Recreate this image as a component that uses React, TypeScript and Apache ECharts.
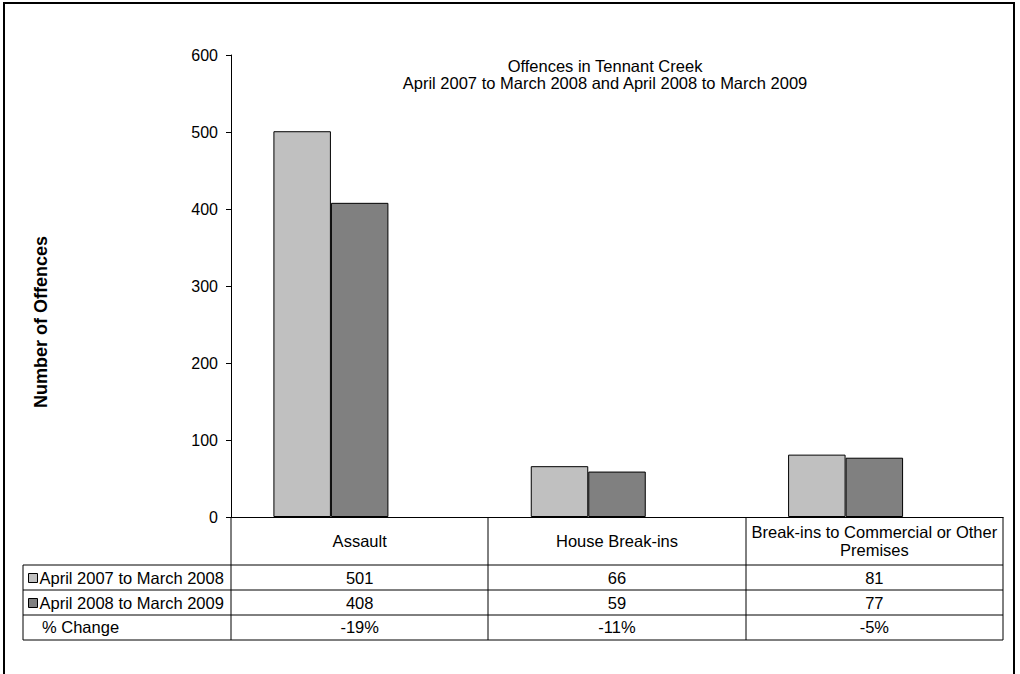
import React, { useEffect, useRef } from "react";
import * as echarts from "echarts";

const categories = ["Assault", "House Break-ins", "Break-ins to Commercial or Other Premises"];
const categoryLines = [["Assault"], ["House Break-ins"], ["Break-ins to Commercial or Other", "Premises"]];
const seriesNames = ["April 2007 to March 2008", "April 2008 to March 2009", "% Change"];
const period1 = [501, 66, 81];
const period2 = [408, 59, 77];
const pctChange = [-19, -11, -5];
const yTicks = [0, 100, 200, 300, 400, 500, 600];
const titleLines = ["Offences in Tennant Creek", "April 2007 to March 2008 and April 2008 to March 2009"];
const yAxisName = "Number of Offences";

const FONT = "'Liberation Sans', Arial, Helvetica, sans-serif";
const FS = 16.5;

export default function App() {
  const ref = useRef<HTMLDivElement>(null);
  useEffect(() => {
    if (!ref.current) return;
    const chart = echarts.init(ref.current, null, { renderer: "svg" });
    const W = 1020;
    const H = 674;
    const gLeft = 231;
    const gRight = 1003;
    const gTop = 55;
    const gBottom = 517;
    const colW = (gRight - gLeft) / categories.length;
    const tableLeft = 23;
    const rowLines = [565, 590, 615, 640];
    const rowCenters = [578, 603, 627];

    const graphics: any[] = [];
    graphics.push({
      type: "rect",
      shape: { x: 4, y: 3, width: 1010, height: 720 },
      style: { fill: "none", stroke: "#000", lineWidth: 2 },
      silent: true,
    });
    titleLines.forEach((t, i) => {
      graphics.push({
        type: "text",
        x: 605,
        y: 66 + i * 17,
        style: { text: t, font: `${FS}px ${FONT}`, fill: "#000", align: "center", verticalAlign: "middle" },
      });
    });
    graphics.push({
      type: "text",
      x: 41,
      y: 322,
      rotation: Math.PI / 2,
      style: { text: yAxisName, font: `bold 18px ${FONT}`, fill: "#000", align: "center", verticalAlign: "middle" },
    });
    rowLines.forEach((y) => {
      graphics.push({
        type: "line",
        shape: { x1: tableLeft, y1: y, x2: gRight, y2: y },
        style: { stroke: "#000", lineWidth: 1 },
      });
    });
    graphics.push({
      type: "line",
      shape: { x1: tableLeft, y1: rowLines[0], x2: tableLeft, y2: rowLines[rowLines.length - 1] },
      style: { stroke: "#000", lineWidth: 1 },
    });
    for (let i = 0; i <= categories.length; i++) {
      const x = Math.round(gLeft + i * colW);
      graphics.push({
        type: "line",
        shape: { x1: x, y1: gBottom, x2: x, y2: rowLines[rowLines.length - 1] },
        style: { stroke: "#000", lineWidth: 1 },
      });
    }
    categoryLines.forEach((lines, i) => {
      const cx = gLeft + (i + 0.5) * colW;
      const cy = 541;
      const lh = 18;
      lines.forEach((ln, j) => {
        graphics.push({
          type: "text",
          x: cx,
          y: cy + (j - (lines.length - 1) / 2) * lh,
          style: { text: ln, font: `${FS}px ${FONT}`, fill: "#000", align: "center", verticalAlign: "middle" },
        });
      });
    });
    const rowColors = ["#C0C0C0", "#808080", null];
    const rows = [
      period1.map((v) => String(v)),
      period2.map((v) => String(v)),
      pctChange.map((v) => `${v}%`),
    ];
    seriesNames.forEach((name, r) => {
      const cy = rowCenters[r];
      const col = rowColors[r];
      if (col) {
        graphics.push({
          type: "rect",
          shape: { x: 28.5, y: cy - 4.5, width: 9, height: 9 },
          style: { fill: col, stroke: "#000", lineWidth: 1 },
        });
      }
      graphics.push({
        type: "text",
        x: col ? 39.5 : 42,
        y: cy,
        style: { text: name, font: `${FS}px ${FONT}`, fill: "#000", align: "left", verticalAlign: "middle" },
      });
      rows[r].forEach((txt, i) => {
        graphics.push({
          type: "text",
          x: gLeft + (i + 0.5) * colW,
          y: cy,
          style: { text: txt, font: `${FS}px ${FONT}`, fill: "#000", align: "center", verticalAlign: "middle" },
        });
      });
    });

    chart.setOption({
      animation: false,
      backgroundColor: "#fff",
      grid: { left: gLeft, right: W - gRight, top: gTop, bottom: H - gBottom, containLabel: false },
      xAxis: {
        type: "category",
        data: categories,
        axisLine: { show: true, lineStyle: { color: "#000", width: 1 } },
        axisTick: { show: false },
        axisLabel: { show: false },
        splitLine: { show: false },
      },
      yAxis: {
        type: "value",
        min: yTicks[0],
        max: yTicks[yTicks.length - 1],
        interval: yTicks[1] - yTicks[0],
        axisLine: { show: true, lineStyle: { color: "#000", width: 1 } },
        axisTick: { show: true, length: 5, lineStyle: { color: "#000" } },
        axisLabel: { color: "#000", fontSize: 16, fontFamily: FONT, margin: 13 },
        splitLine: { show: false },
      },
      series: [
        {
          name: seriesNames[0],
          type: "bar",
          data: period1,
          barWidth: 57.5,
          barGap: "0%",
          itemStyle: { color: "#C0C0C0", borderColor: "#000", borderWidth: 1 },
        },
        {
          name: seriesNames[1],
          type: "bar",
          data: period2,
          barWidth: 57.5,
          barGap: "0%",
          itemStyle: { color: "#808080", borderColor: "#000", borderWidth: 1 },
        },
        {
          name: seriesNames[2],
          type: "bar",
          data: pctChange.map((v) => v / 100),
          barWidth: 57.5,
          barGap: "0%",
          itemStyle: { color: "rgba(0,0,0,0)", borderWidth: 0 },
        },
      ],
      graphic: graphics,
    });
    return () => chart.dispose();
  }, []);
  return <div ref={ref} style={{ position: "absolute", left: 0, top: 0, width: 1020, height: 674 }} />;
}
